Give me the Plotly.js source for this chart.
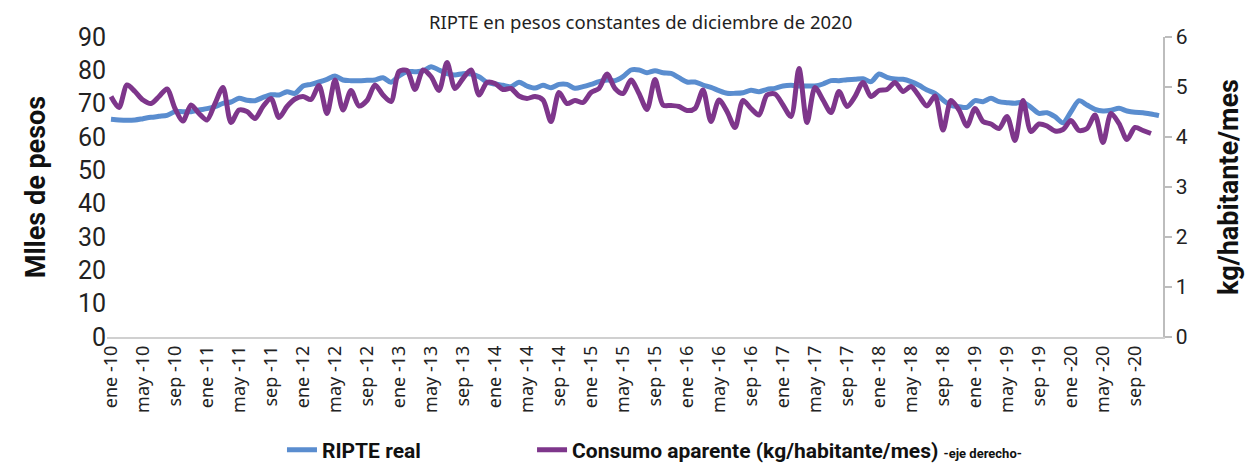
<!DOCTYPE html>
<html>
<head>
<meta charset="utf-8">
<script src="https://cdn.plot.ly/plotly-3.0.1.min.js"></script>
<style>
  html, body { margin: 0; padding: 0; background: #fff; }
  #chart { width: 1248px; height: 463px; }
</style>
</head>
<body>
<div id="chart"></div>
<script>
// Month names and years (tick labels)
const monthNames = ["ene", "feb", "mar", "abr", "may", "jun", "jul", "ago", "sep", "oct", "nov", "dic"];
const years = ["10", "11", "12", "13", "14", "15", "16", "17", "18", "19", "20"];

// RIPTE real (miles de pesos, dic-2020), ene-10 .. dic-20
const ripte = [
  65.3, 65.1, 65.0, 65.1, 65.5, 65.9, 66.2, 66.5, 67.6, 67.6, 67.6, 68.1,
  68.5, 69.1, 70.1, 70.5, 71.6, 71.0, 70.9, 71.9, 72.7, 72.6, 73.6, 73.1,
  75.3, 75.8, 76.5, 77.3, 78.3, 77.1, 76.9, 76.9, 77.0, 77.1, 77.8, 76.4,
  78.3, 79.6, 79.6, 79.8, 81.1, 80.1, 79.0, 78.6, 79.0, 78.9, 78.1, 76.4,
  75.9, 75.5, 75.1, 76.4, 75.3, 74.7, 75.5, 74.8, 75.8, 75.8, 74.6, 75.1,
  75.8, 76.6, 77.1, 76.9, 78.1, 80.1, 80.1, 79.3, 79.9, 79.3, 79.1, 77.8,
  76.5, 76.5, 75.6, 74.9, 73.9, 73.1, 73.1, 73.3, 74.0, 73.6, 74.3, 74.6,
  75.3, 75.5, 75.3, 75.3, 75.3, 75.9, 76.9, 76.9, 77.2, 77.3, 77.5, 76.6,
  78.9, 77.9, 77.4, 77.3, 76.6, 75.5, 74.1, 73.1, 71.1, 69.5, 69.1, 68.9,
  70.9, 70.6, 71.6, 70.6, 70.3, 70.1, 70.4, 68.9, 67.1, 67.3, 66.1, 64.3,
  67.6, 70.9, 69.6, 68.3, 67.8, 68.0, 68.6, 67.8, 67.4, 67.3, 66.9, 66.4
];

// Consumo aparente (kg/habitante/mes), ene-10 .. nov-20
const consumo = [
  4.81, 4.59, 5.04, 4.91, 4.74, 4.67, 4.81, 4.96, 4.57, 4.32, 4.64, 4.47,
  4.34, 4.67, 4.99, 4.29, 4.54, 4.51, 4.37, 4.61, 4.77, 4.39, 4.61, 4.76,
  4.81, 4.75, 5.03, 4.47, 5.14, 4.54, 4.93, 4.62, 4.73, 5.04, 4.84, 4.71,
  5.31, 5.33, 4.95, 5.34, 5.21, 4.93, 5.49, 4.97, 5.17, 5.34, 4.84, 5.09,
  5.07, 4.95, 4.97, 4.82, 4.77, 4.81, 4.74, 4.31, 4.89, 4.67, 4.73, 4.69,
  4.89, 4.97, 5.26, 4.97, 4.87, 5.14, 4.87, 4.55, 5.15, 4.64, 4.63, 4.61,
  4.53, 4.57, 4.94, 4.31, 4.74, 4.51, 4.19, 4.73, 4.57, 4.44, 4.84, 4.86,
  4.64, 4.41, 5.37, 4.29, 4.99, 4.74, 4.49, 4.91, 4.61, 4.81, 5.09, 4.81,
  4.93, 4.95, 5.09, 4.91, 5.01, 4.82, 4.62, 4.82, 4.14, 4.73, 4.54, 4.22,
  4.57, 4.31, 4.26, 4.17, 4.41, 3.93, 4.73, 4.11, 4.26, 4.22, 4.12, 4.15,
  4.33, 4.13, 4.17, 4.44, 3.89, 4.47, 4.27, 3.95, 4.19, 4.13, 4.07
];

// Category labels
const months = [];
years.forEach(y => monthNames.forEach(m => months.push(m + " -" + y)));
const tickLabels = months.filter((m, i) => i % 4 === 0);

const narrow = "Roboto, 'Liberation Sans Narrow', 'Noto Sans', sans-serif";
const regular = "'Noto Sans', 'Open Sans', 'DejaVu Sans', sans-serif";

const traces = [
  {
    x: months, y: ripte, type: "scatter", mode: "lines", name: "<b>RIPTE real</b>",
    line: { color: "#5A8DCF", width: 5, shape: "spline", smoothing: 0.8 },
    yaxis: "y", legend: "legend", hoverinfo: "x+y"
  },
  {
    x: months.slice(0, consumo.length), y: consumo, type: "scatter", mode: "lines",
    name: "<b>Consumo aparente (kg/habitante/mes)</b> <span style='font-size:13px'><b>-eje derecho-</b></span>",
    line: { color: "#7E368B", width: 5, shape: "spline", smoothing: 0.8 },
    yaxis: "y2", legend: "legend2", hoverinfo: "x+y"
  }
];

const legendFont = { family: narrow, size: 21, color: "#111" };

const layout = {
  width: 1248, height: 463,
  margin: { l: 107, r: 85, t: 37, b: 126, autoexpand: false },
  paper_bgcolor: "#ffffff", plot_bgcolor: "#ffffff",
  showlegend: true,
  legend: {
    orientation: "h", x: 0.1657, xanchor: "left", y: -0.377, yanchor: "middle",
    font: legendFont, bgcolor: "rgba(0,0,0,0)"
  },
  legend2: {
    orientation: "h", x: 0.4025, xanchor: "left", y: -0.377, yanchor: "middle",
    font: legendFont, bgcolor: "rgba(0,0,0,0)"
  },
  annotations: [{
    text: "RIPTE en pesos constantes de diciembre de 2020",
    xref: "paper", yref: "paper", x: 0.505, y: 1.05, xanchor: "center", yanchor: "middle",
    showarrow: false, font: { family: regular, size: 18.5, color: "#222" }
  }],
  xaxis: {
    type: "category", range: [-0.5, 131.5], automargin: false,
    tickmode: "array", tickvals: tickLabels, ticktext: tickLabels,
    tickangle: -90, ticks: "", showgrid: false, zeroline: false,
    showline: true, linecolor: "#D0D0D0", linewidth: 1.5,
    tickfont: { family: regular, size: 18, color: "#222" }
  },
  yaxis: {
    range: [0, 90], dtick: 10, tick0: 0, showgrid: false, zeroline: false,
    showline: false, ticks: "", automargin: false,
    tickfont: { family: narrow, size: 25, color: "#222" },
    title: { text: "<b>Mlles de pesos</b>", font: { family: narrow, size: 27, color: "#111" }, standoff: 24 }
  },
  yaxis2: {
    overlaying: "y", side: "right", range: [0, 6], dtick: 1, tick0: 0, automargin: false,
    showgrid: false, zeroline: false, showline: true, linecolor: "#BDBDBD", linewidth: 1.5,
    ticks: "outside", ticklen: 7, tickcolor: "#BDBDBD", tickwidth: 1.5,
    tickfont: { family: narrow, size: 21, color: "#222" },
    title: { text: "<b>kg/habitante/mes</b>", font: { family: narrow, size: 27, color: "#111" }, standoff: 32 }
  }
};

Plotly.newPlot("chart", traces, layout, { displayModeBar: false, staticPlot: true });
</script>
</body>
</html>
